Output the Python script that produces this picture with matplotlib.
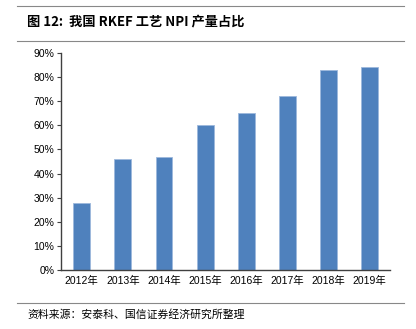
import matplotlib
matplotlib.use('Agg')
import matplotlib.pyplot as plt
from matplotlib.lines import Line2D
from matplotlib.ticker import FuncFormatter

plt.rcParams['font.family'] = ['Liberation Sans', 'Noto Sans CJK SC', 'DejaVu Sans']

# Data
years = ['2012年', '2013年', '2014年', '2015年', '2016年', '2017年', '2018年', '2019年']
share = [28, 46, 47, 60, 65, 72, 83, 84]
yticks = [0, 10, 20, 30, 40, 50, 60, 70, 80, 90]

fig = plt.figure(figsize=(4.16, 3.29), dpi=100)
ax = fig.add_axes([0.147, 0.179, 0.791, 0.660])

x = range(len(years))
ax.bar(x, share, width=0.41, color='#4F81BD', edgecolor='#9DB8DC', linewidth=0.6)

ax.set_xlim(-0.5, len(years) - 0.5)
ax.set_ylim(0, 90)
ax.set_yticks(yticks)
ax.yaxis.set_major_formatter(FuncFormatter(lambda v, p: f'{v:.0f}%'))
ax.set_xticks(list(x))
ax.set_xticklabels(years)
ax.tick_params(axis='y', length=3, width=0.8, color='#404040', labelsize=7.5, pad=2)
ax.tick_params(axis='x', length=0, labelsize=7.5, pad=4)
for side in ['top', 'right']:
    ax.spines[side].set_visible(False)
for side in ['left', 'bottom']:
    ax.spines[side].set_color('#404040')
    ax.spines[side].set_linewidth(1.0)

# header / footer
cjk = ['Noto Sans CJK SC', 'DejaVu Sans']
fig.add_artist(Line2D([0.041, 0.971], [0.982, 0.982], color='#888888', lw=0.8))
fig.text(0.065, 0.936, '图 12:  我国 RKEF 工艺 NPI 产量占比', fontsize=9.5,
         fontweight='bold', va='center', ha='left', family=cjk)
fig.add_artist(Line2D([0.041, 0.971], [0.875, 0.875], color='#888888', lw=0.8))
fig.add_artist(Line2D([0.041, 0.971], [0.079, 0.079], color='#888888', lw=0.8))
fig.text(0.065, 0.043, '资料来源：安泰科、国信证券经济研究所整理', fontsize=7.8,
         va='center', ha='left', family=cjk)

plt.savefig('out.png', dpi=100, facecolor='white')
